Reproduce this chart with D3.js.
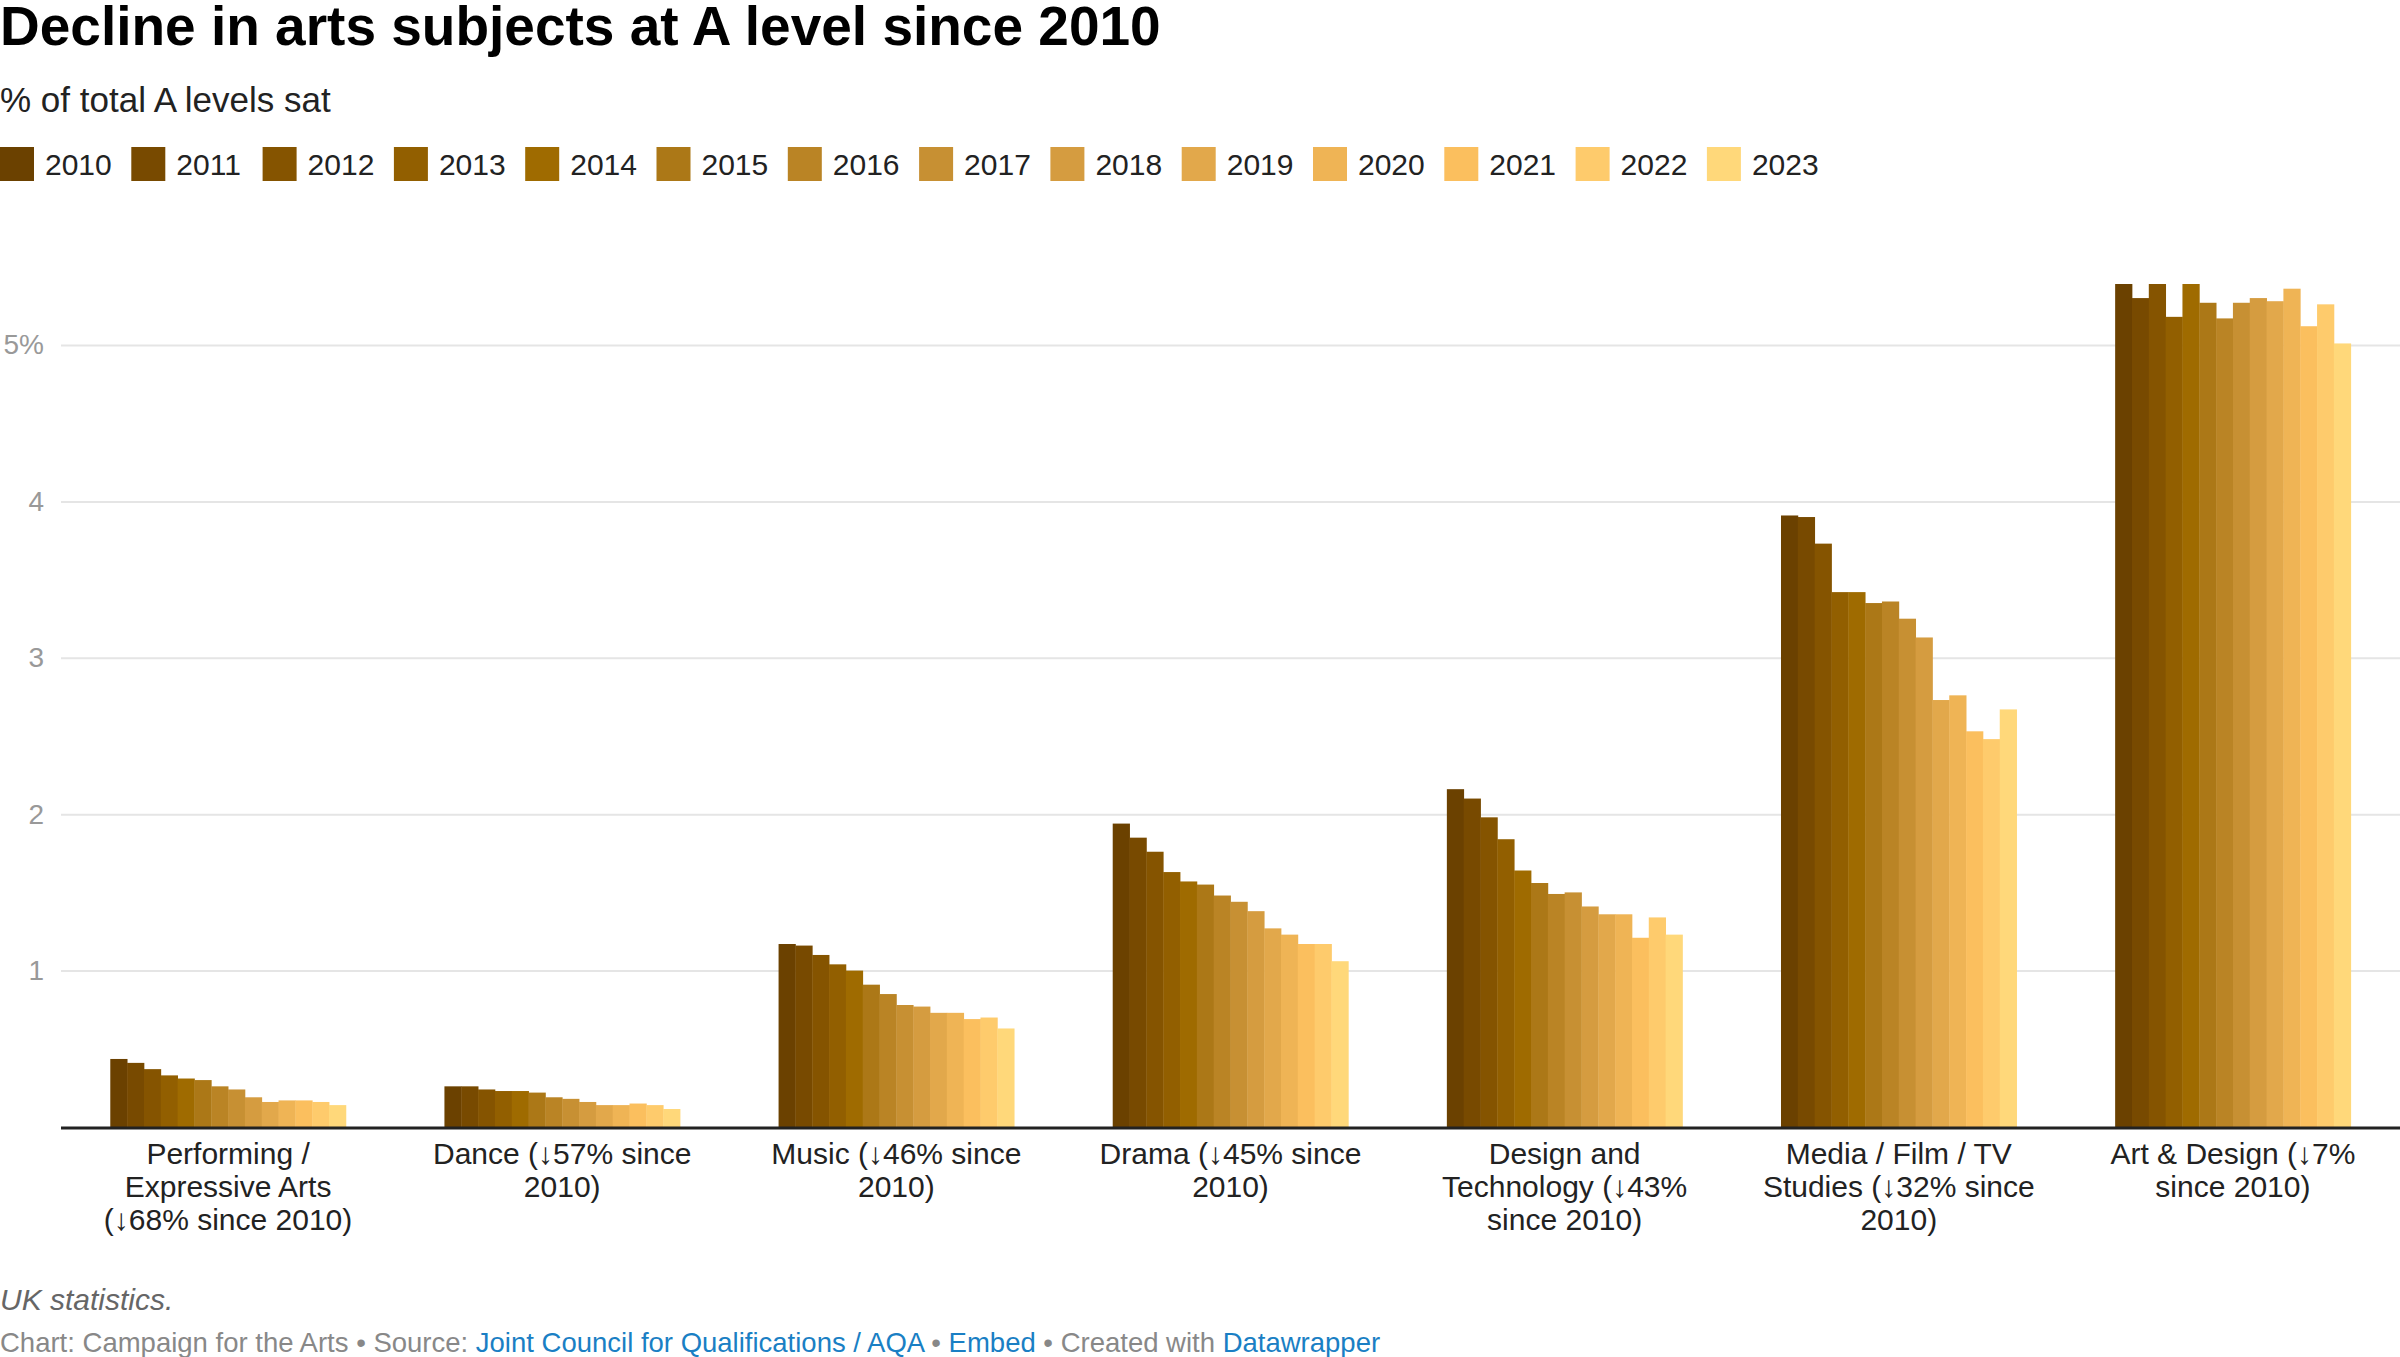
<!DOCTYPE html>
<html>
<head>
<meta charset="utf-8">
<script src="https://cdn.jsdelivr.net/npm/d3@7"></script>
<style>
  html, body { margin: 0; padding: 0; background: #fff; }
  svg { display: block; font-family: "Liberation Sans", Arial, Helvetica, sans-serif; }
</style>
</head>
<body>
<svg id="chart" width="2400" height="1357"></svg>
<script>
// data (% of total A levels sat)
const years = ["2010", "2011", "2012", "2013", "2014", "2015", "2016", "2017", "2018", "2019", "2020", "2021", "2022", "2023"];
const subjects = ["Performing / Expressive Arts", "Dance", "Music", "Drama", "Design and Technology", "Media / Film / TV Studies", "Art & Design"];

const performingArts = [0.435, 0.41, 0.37, 0.33, 0.31, 0.30, 0.26, 0.24, 0.19, 0.16, 0.17, 0.17, 0.16, 0.14];
const dance = [0.26, 0.26, 0.24, 0.23, 0.23, 0.22, 0.19, 0.18, 0.16, 0.14, 0.14, 0.15, 0.14, 0.115];
const music = [1.17, 1.16, 1.10, 1.04, 1.00, 0.91, 0.85, 0.78, 0.77, 0.73, 0.73, 0.69, 0.70, 0.63];
const drama = [1.94, 1.85, 1.76, 1.63, 1.57, 1.55, 1.48, 1.44, 1.38, 1.27, 1.23, 1.17, 1.17, 1.06];
const designTech = [2.16, 2.10, 1.98, 1.84, 1.64, 1.56, 1.49, 1.50, 1.41, 1.36, 1.36, 1.21, 1.34, 1.23];
const mediaFilmTv = [3.91, 3.90, 3.73, 3.42, 3.42, 3.35, 3.36, 3.25, 3.13, 2.73, 2.76, 2.53, 2.48, 2.67];
const artDesign = [5.39, 5.30, 5.39, 5.18, 5.39, 5.27, 5.17, 5.27, 5.30, 5.28, 5.36, 5.12, 5.26, 5.01];

const categoryLabels = [
    ["Performing /", "Expressive Arts", "(\u219368% since 2010)"],
    ["Dance (\u219357% since", "2010)"],
    ["Music (\u219346% since", "2010)"],
    ["Drama (\u219345% since", "2010)"],
    ["Design and", "Technology (\u219343%", "since 2010)"],
    ["Media / Film / TV", "Studies (\u219332% since", "2010)"],
    ["Art & Design (\u21937%", "since 2010)"]
];

const yTicks = [1, 2, 3, 4, 5];

const yearColors = ["#6b4100", "#784a00", "#855400", "#925f00", "#9f6b00", "#ac7817", "#ba8425", "#c79033",
                    "#d59c40", "#e2a84b", "#efb455", "#fbbf5e", "#fecb6c", "#ffd87a"];

const seriesBySubject = [performingArts, dance, music, drama, designTech, mediaFilmTv, artDesign];

const table = subjects.map((s, i) => ({
    subject: s,
    lines: categoryLabels[i],
    values: years.map((y, j) => ({year: y, value: seriesBySubject[i][j]}))
}));

function draw() {
    const svg = d3.select("#chart");

    const plot = {left: 61, right: 2400, top: 250, bottom: 1127};

    // title block
    svg.append("text")
        .attr("x", 0).attr("y", 45)
        .attr("font-size", 55).attr("font-weight", "bold")
        .attr("fill", "#000")
        .text("Decline in arts subjects at A level since 2010");

    svg.append("text")
        .attr("x", 0).attr("y", 112)
        .attr("font-size", 35)
        .attr("fill", "#222")
        .text("% of total A levels sat");

    // legend
    const color = d3.scaleOrdinal().domain(years).range(yearColors);
    const legend = svg.append("g").attr("transform", "translate(0,164)");
    const item = legend.selectAll("g")
        .data(years)
        .enter().append("g")
        .attr("transform", (d, i) => "translate(" + (i * 131.3) + ",0)");
    item.append("rect")
        .attr("x", 0).attr("y", -17)
        .attr("width", 34).attr("height", 34)
        .attr("fill", d => color(d));
    item.append("text")
        .attr("x", 45).attr("y", 0)
        .attr("dy", "0.35em")
        .attr("font-size", 30)
        .attr("fill", "#222")
        .text(d => d);

    // scales
    const x0 = d3.scaleBand()
        .domain(subjects)
        .range([plot.left, plot.right])
        .paddingInner(0.295)
        .paddingOuter(0.1475);
    const x1 = d3.scaleBand()
        .domain(years)
        .range([0, x0.bandwidth()]);
    const y = d3.scaleLinear()
        .domain([0, 5])
        .range([plot.bottom, plot.bottom - 5 * 156.4]);

    // gridlines + y labels
    const yAxis = svg.append("g")
        .attr("transform", "translate(" + plot.left + ",0)")
        .call(d3.axisLeft(y)
            .tickValues(yTicks)
            .tickSize(-(plot.right - plot.left))
            .tickPadding(17)
            .tickFormat(d => d === 5 ? d + "%" : d));
    yAxis.select(".domain").remove();
    yAxis.selectAll(".tick line").attr("stroke", "#e5e5e5").attr("stroke-width", 2);
    yAxis.selectAll(".tick text")
        .attr("font-size", 28)
        .attr("font-family", "'Liberation Sans', Arial, sans-serif")
        .attr("fill", "#999");

    // bars
    const groups = svg.append("g").selectAll("g")
        .data(table)
        .enter().append("g")
        .attr("transform", d => "translate(" + x0(d.subject) + ",0)");
    groups.selectAll("rect")
        .data(d => d.values)
        .enter().append("rect")
        .attr("x", d => x1(d.year))
        .attr("y", d => y(d.value))
        .attr("width", x1.bandwidth() + 0.4)
        .attr("height", d => y(0) - y(d.value))
        .attr("fill", d => color(d.year));

    // baseline
    svg.append("line")
        .attr("x1", plot.left).attr("x2", plot.right)
        .attr("y1", y(0) + 1).attr("y2", y(0) + 1)
        .attr("stroke", "#222").attr("stroke-width", 3);

    // category labels
    const xAxis = svg.append("g");
    const lab = xAxis.selectAll("text")
        .data(table)
        .enter().append("text")
        .attr("x", d => x0(d.subject) + x0.bandwidth() / 2)
        .attr("y", 1164)
        .attr("text-anchor", "middle")
        .attr("font-size", 30)
        .attr("fill", "#222");
    lab.selectAll("tspan")
        .data(d => d.lines)
        .enter().append("tspan")
        .attr("x", function() { return d3.select(this.parentNode).attr("x"); })
        .attr("dy", (d, i) => i === 0 ? 0 : 33)
        .text(d => d);

    // notes and credits
    svg.append("text")
        .attr("x", 0).attr("y", 1310)
        .attr("font-size", 30)
        .attr("font-style", "italic")
        .attr("fill", "#666")
        .text("UK statistics.");

    const credit = svg.append("text")
        .attr("x", 0).attr("y", 1352)
        .attr("font-size", 27.5)
        .attr("fill", "#888");
    const parts = [
        ["Chart: Campaign for the Arts \u2022 Source: ", false],
        ["Joint Council for Qualifications / AQA", true],
        [" \u2022 ", false],
        ["Embed", true],
        [" \u2022 Created with ", false],
        ["Datawrapper", true]
    ];
    credit.selectAll("tspan")
        .data(parts)
        .enter().append("tspan")
        .attr("fill", d => d[1] ? "#1a7fc4" : "#888")
        .text(d => d[0]);
}

draw();
</script>
</body>
</html>
